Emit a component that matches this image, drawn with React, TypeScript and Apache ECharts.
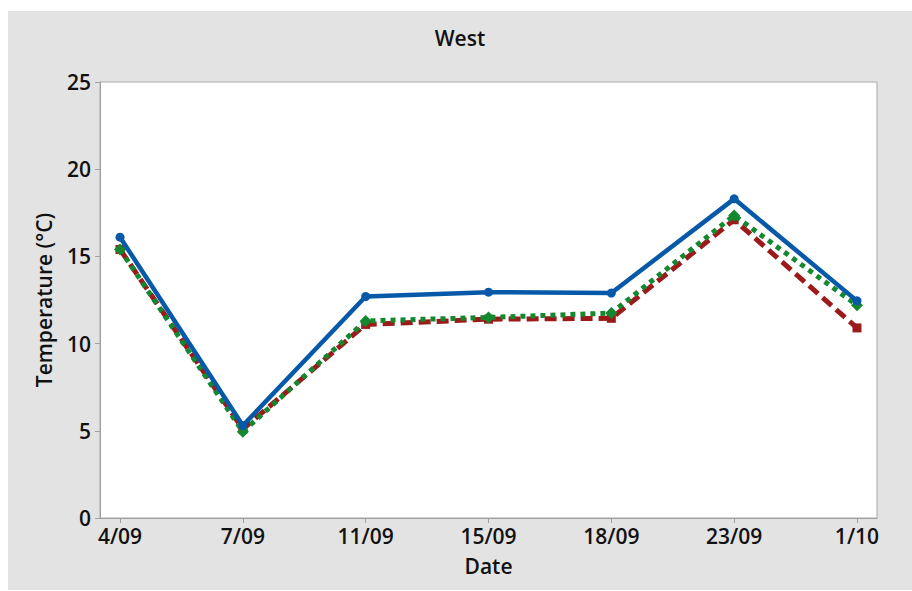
import React, { useEffect, useRef } from "react";
import * as echarts from "echarts";

// Sampling dates along the x axis
const dates = ["4/09", "7/09", "11/09", "15/09", "18/09", "23/09", "1/10"];

// Temperature readings (°C) for each series
const seriesA = [16.1, 5.3, 12.7, 12.95, 12.9, 18.3, 12.45];
const seriesB = [15.4, 5.1, 11.1, 11.4, 11.45, 17.1, 10.9];
const seriesC = [15.4, 4.95, 11.3, 11.5, 11.75, 17.35, 12.2];

const yTicks = [0, 5, 10, 15, 20, 25];

const FONT = "'Open Sans', 'Noto Sans', sans-serif";
const TEXT = "#111111";
const AXIS = "#a0a0a0";

const toPoints = (vals: number[]) => vals.map((v, i) => [i, v]);
const idx = dates.map((_, i) => i);

export default function App() {
  const ref = useRef<HTMLDivElement>(null);

  useEffect(() => {
    if (!ref.current) return;
    const chart = echarts.init(ref.current, undefined, { renderer: "svg" });
    chart.setOption({
      animation: false,
      backgroundColor: "#e3e3e3",
      title: {
        text: "West",
        left: "center",
        top: 11,
        textStyle: { fontFamily: FONT, fontSize: 21, fontWeight: 600, color: TEXT },
      },
      grid: {
        left: 92,
        right: 35,
        top: 71,
        bottom: 72,
        show: true,
        backgroundColor: "#ffffff",
        borderColor: "#a8a8a8",
        borderWidth: 1,
      },
      xAxis: {
        type: "value",
        min: -0.163,
        max: 6.163,
        name: "Date",
        nameLocation: "middle",
        nameGap: 37,
        nameTextStyle: { fontFamily: FONT, fontSize: 21, fontWeight: 600, color: TEXT },
        splitLine: { show: false },
        axisLine: { show: true, onZero: false, lineStyle: { color: AXIS, width: 1 } },
        axisTick: { show: true, length: 5, customValues: idx, lineStyle: { color: AXIS } },
        axisLabel: {
          customValues: idx,
          margin: 7,
          formatter: (v: number) => dates[Math.round(v)] ?? "",
          fontFamily: FONT,
          fontSize: 21,
          fontWeight: 600,
          color: TEXT,
        },
      },
      yAxis: {
        type: "value",
        min: yTicks[0],
        max: yTicks[yTicks.length - 1],
        interval: 5,
        name: "Temperature (°C)",
        nameLocation: "middle",
        nameGap: 46,
        nameTextStyle: { fontFamily: FONT, fontSize: 21, fontWeight: 600, color: TEXT },
        splitLine: { show: false },
        axisLine: { show: true, onZero: false, lineStyle: { color: AXIS, width: 1 } },
        axisTick: { show: true, length: 5, lineStyle: { color: AXIS } },
        axisLabel: {
          margin: 9,
          fontFamily: FONT,
          fontSize: 21,
          fontWeight: 600,
          color: TEXT,
        },
      },
      series: [
        {
          name: "Series B",
          type: "line",
          data: toPoints(seriesB),
          symbol: "rect",
          symbolSize: 9,
          itemStyle: { color: "#9c1a1a" },
          lineStyle: { color: "#9c1a1a", width: 5, type: [12, 6] },
          z: 2,
        },
        {
          name: "Series C",
          type: "line",
          data: toPoints(seriesC),
          symbol: "diamond",
          symbolSize: 12,
          itemStyle: { color: "#14882e" },
          lineStyle: { color: "#14882e", width: 5, type: [5, 5] },
          z: 3,
        },
        {
          name: "Series A",
          type: "line",
          data: toPoints(seriesA),
          symbol: "circle",
          symbolSize: 9,
          itemStyle: { color: "#0559a8" },
          lineStyle: { color: "#0559a8", width: 4.5 },
          z: 4,
        },
      ],
    });
    return () => chart.dispose();
  }, []);

  return (
    <div
      ref={ref}
      style={{ position: "absolute", left: 8, top: 11, width: 904, height: 579 }}
    />
  );
}
